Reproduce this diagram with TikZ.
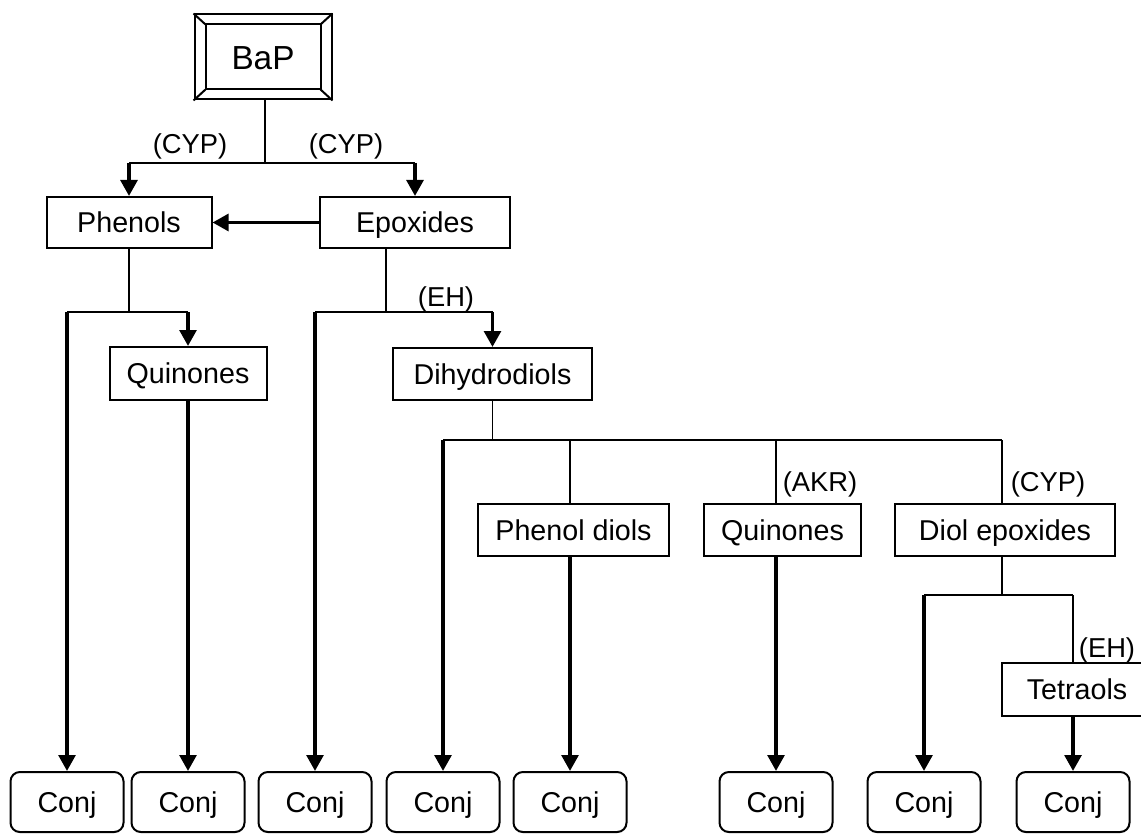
\documentclass[tikz,border=0pt]{standalone}
\usepackage{fontspec}
\setmainfont{Liberation Sans}
\usetikzlibrary{arrows.meta}

\tikzset{
  box/.style={draw, line width=1.5pt, inner sep=0pt, text height=17pt, text depth=1.6pt, font=\fontsize{21.5}{26}\selectfont},
  conjbox/.style={box, rounded corners=7pt, minimum width=84.75pt, minimum height=45pt},
  link/.style={line width=1.4pt},
  arr/.style={line width=2.8pt, -{Triangle[length=12pt,width=12.5pt]}},
  enz/.style={font=\fontsize{20.5}{24}\selectfont, inner sep=0pt},
}

\begin{document}
\begin{tikzpicture}[x=0.75pt, y=-0.75pt]
        \useasboundingbox (0,0) rectangle (1141,834);
        % parent compound, double frame
        \node[box, minimum width=102.75pt, minimum height=63.75pt, text height=21pt, text depth=2pt, font=\fontsize{25}{30}\selectfont] (bap) at (263,57) {BaP};
        \draw[line width=1.5pt] ([shift={(12,11)}]bap.north west) rectangle ([shift={(-12,-11)}]bap.south east);
        \draw[line width=1.5pt] (bap.north west) -- ([shift={(12,11)}]bap.north west);
        \draw[line width=1.5pt] (bap.north east) -- ([shift={(-12,11)}]bap.north east);
        \draw[line width=1.5pt] (bap.south west) -- ([shift={(12,-11)}]bap.south west);
        \draw[line width=1.5pt] (bap.south east) -- ([shift={(-12,-11)}]bap.south east);

        % metabolites
        \node[box, minimum width=123.75pt, minimum height=38.25pt] (phen) at (129,222.5) {Phenols};
        \node[box, minimum width=142.5pt, minimum height=38.25pt] (epox) at (415,222.5) {Epoxides};
        \node[box, minimum width=117.75pt, minimum height=39.75pt] (quin1) at (188,373.5) {Quinones};
        \node[box, minimum width=149.25pt, minimum height=39pt] (dihyd) at (492.5,374) {Dihydrodiols};
        \node[box, minimum width=143.25pt, minimum height=39pt] (phdiol) at (573.5,530) {Phenol diols};
        \node[box, minimum width=117.75pt, minimum height=39pt] (quin2) at (782.5,530) {Quinones};
        \node[box, minimum width=165pt, minimum height=39pt] (diolep) at (1005,530) {Diol epoxides};
        \node[box, minimum width=112.5pt, minimum height=39.75pt] (tetra) at (1077,689.5) {Tetraols};

        % conjugates
        \foreach \i/\x in {1/67, 2/188, 3/315, 4/443, 5/570, 6/776, 7/924, 8/1073} {
            \node[conjbox] (conj\i) at (\x,802) {Conj};
        }

        % BaP -> phenols, epoxides
        \coordinate (j0) at (265,163);
        \draw[link] (bap.south -| j0) -- (j0);
        \draw[link] (phen.north |- j0) -- (epox.north |- j0);
        \draw[arr] (phen.north |- j0) -- (phen.north);
        \draw[arr] (epox.north |- j0) -- (epox.north);
        \node[enz] at (190,146) {(CYP)};
        \node[enz] at (346,146) {(CYP)};
        \draw[arr] (epox.west) -- (phen.east);

        % phenols branch
        \coordinate (j1) at (phen.south |- 0,312);
        \draw[link] (phen.south) -- (j1);
        \draw[link] (conj1.north |- j1) -- (quin1.north |- j1);
        \draw[arr] (conj1.north |- j1) -- (conj1.north);
        \draw[arr] (quin1.north |- j1) -- (quin1.north);
        \draw[arr] (quin1.south) -- (conj2.north);

        % epoxides branch
        \coordinate (j2) at (386,312);
        \draw[link] (j2 |- epox.south) -- (j2);
        \draw[link] (conj3.north |- j2) -- (dihyd.north |- j2);
        \draw[arr] (conj3.north |- j2) -- (conj3.north);
        \draw[arr] (dihyd.north |- j2) -- (dihyd.north);
        \node[enz] at (446,299) {(EH)};

        % dihydrodiols branch
        \coordinate (j3) at (dihyd.south |- 0,440);
        \coordinate (b2) at (570,440);
        \coordinate (b3) at (776,440);
        \coordinate (b4) at (1002,440);
        \draw[link] (dihyd.south) -- (j3);
        \draw[link] (conj4.north |- j3) -- (b4);
        \draw[arr] (conj4.north |- j3) -- (conj4.north);
        \draw[link] (b2) -- (b2 |- phdiol.north);
        \draw[link] (b3) -- (b3 |- quin2.north);
        \draw[link] (b4) -- (b4 |- diolep.north);
        \node[enz] at (820,484) {(AKR)};
        \node[enz] at (1048,484) {(CYP)};
        \draw[arr] (b2 |- phdiol.south) -- (conj5.north);
        \draw[arr] (b3 |- quin2.south) -- (conj6.north);

        % diol epoxides branch
        \coordinate (j4) at (1002,595);
        \draw[link] (j4 |- diolep.south) -- (j4);
        \draw[link] (conj7.north |- j4) -- (conj8.north |- j4);
        \draw[arr] (conj7.north |- j4) -- (conj7.north);
        \draw[link] (conj8.north |- j4) -- (conj8.north |- tetra.north);
        \node[enz] at (1107,650) {(EH)};
        \draw[arr] (conj8.north |- tetra.south) -- (conj8.north);
\end{tikzpicture}
\end{document}
